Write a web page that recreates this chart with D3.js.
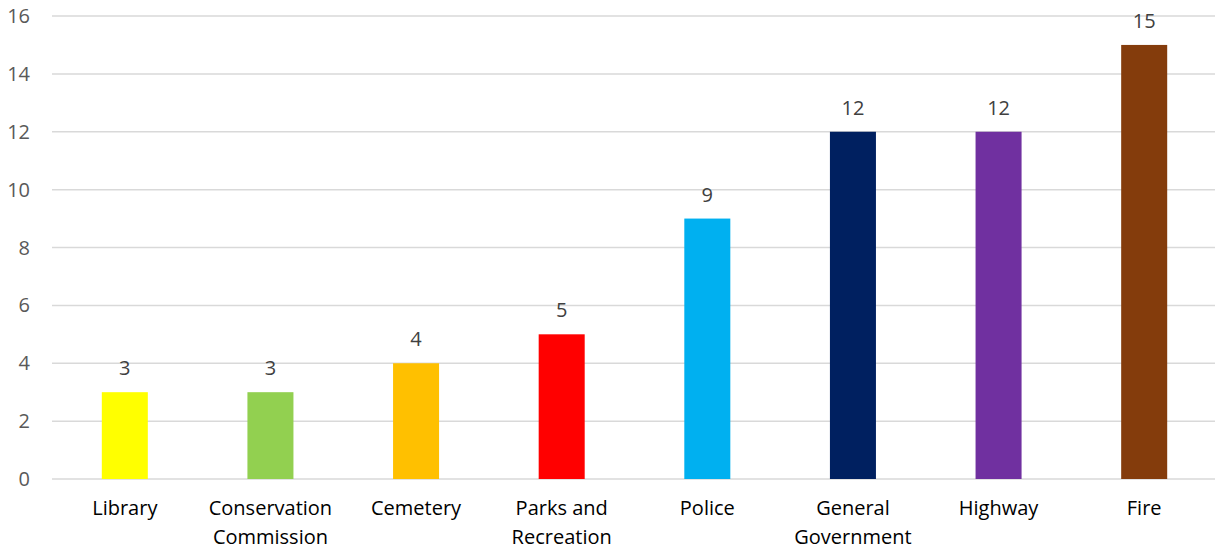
<!DOCTYPE html>
<html><head><meta charset="utf-8">
<script src="https://cdn.jsdelivr.net/npm/d3@7"></script>
<style>body{margin:0;background:#fff;} svg{display:block;font-family:"Open Sans",sans-serif;}</style>
</head><body><svg id="c" width="1215" height="550"></svg>
<script>
const categories = ["Library","Conservation Commission","Cemetery","Parks and Recreation","Police","General Government","Highway","Fire"];
const labelLines = [["Library"],["Conservation","Commission"],["Cemetery"],["Parks and","Recreation"],["Police"],["General","Government"],["Highway"],["Fire"]];
const values = [3,3,4,5,9,12,12,15];
const colors = ["#FFFF00","#92D050","#FFC000","#FF0000","#00B0F0","#002060","#7030A0","#843C0C"];
const yTicks = [0,2,4,6,8,10,12,14,16];

const svg = d3.select("#c");
const x = d3.scaleBand().domain(categories).range([52,1217]).paddingInner(0.684).paddingOuter(0.342);
const y = d3.scaleLinear().domain([0,16]).range([479,16]);

svg.append("g").selectAll("line").data(yTicks).join("line")
  .attr("x1",52).attr("x2",1215).attr("y1",d=>y(d)).attr("y2",d=>y(d))
  .attr("stroke","#d9d9d9").attr("stroke-width",1.5);

svg.append("g").selectAll("text").data(yTicks).join("text")
  .attr("x",30).attr("y",d=>y(d)).attr("dy","0.35em").attr("text-anchor","end")
  .attr("fill","#595959").attr("font-size",20).text(d=>d);

svg.append("g").selectAll("rect").data(values).join("rect")
  .attr("x",(d,i)=>x(categories[i])).attr("width",x.bandwidth())
  .attr("y",d=>y(d)).attr("height",d=>y(0)-y(d)).attr("fill",(d,i)=>colors[i]);

svg.append("g").selectAll("text").data(values).join("text")
  .attr("x",(d,i)=>x(categories[i])+x.bandwidth()/2).attr("y",d=>y(d)-17)
  .attr("text-anchor","middle").attr("fill","#404040").attr("font-size",20).text(d=>d);

const lab = svg.append("g").selectAll("text").data(labelLines).join("text")
  .attr("text-anchor","middle").attr("fill","#000").attr("font-size",20);
lab.each(function(lines,i){
  const t=d3.select(this);
  lines.forEach((l,j)=>t.append("tspan").attr("x",x(categories[i])+x.bandwidth()/2).attr("y",515+j*29).text(l));
});
</script></body></html>
